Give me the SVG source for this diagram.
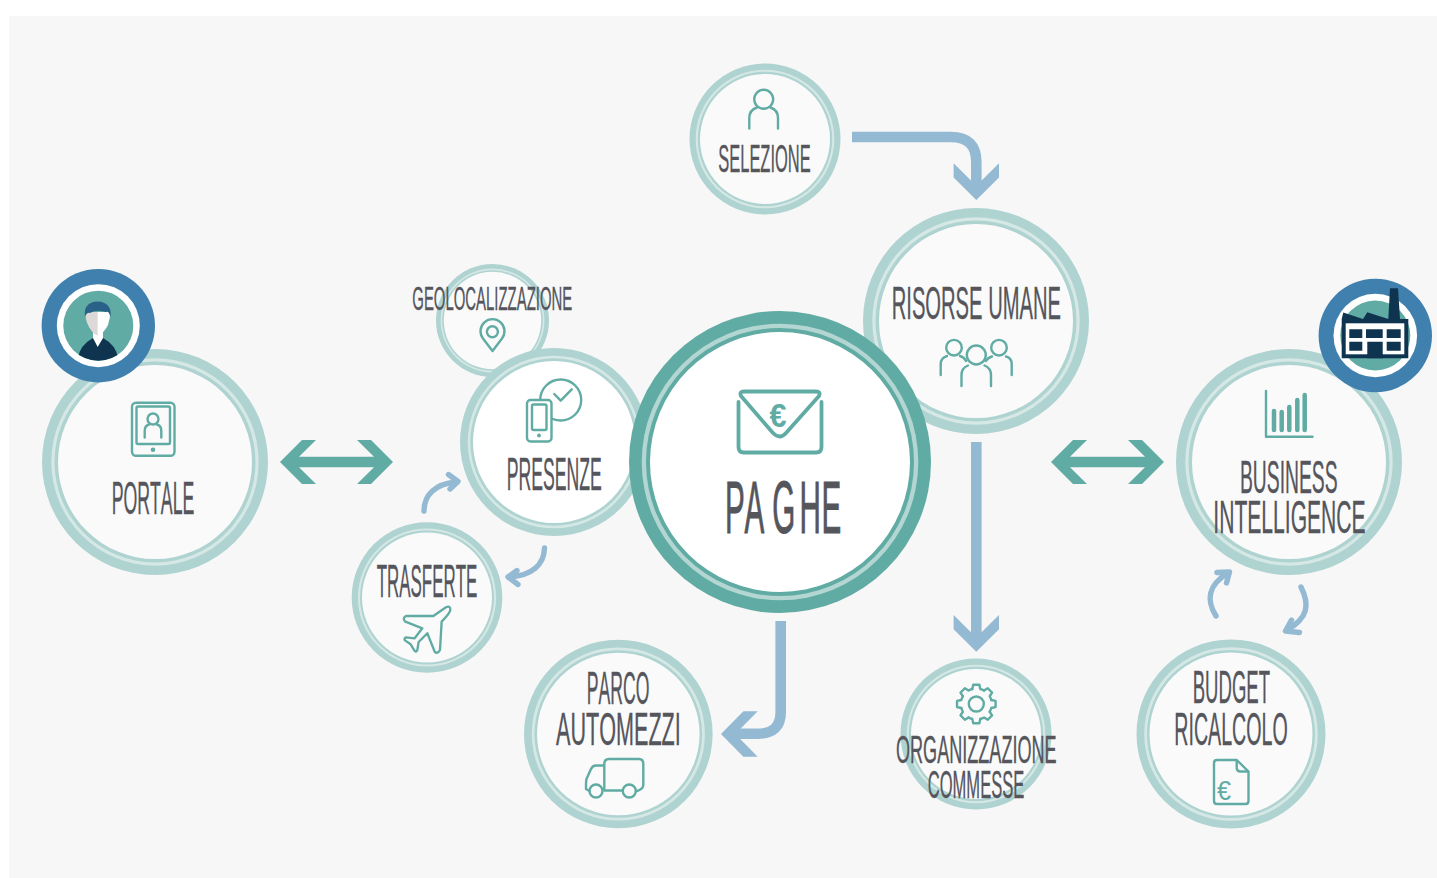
<svg xmlns="http://www.w3.org/2000/svg" xmlns:xlink="http://www.w3.org/1999/xlink" width="1437" height="878" viewBox="0 0 1437 878">
<style>
.a{fill:#aed3d0}.b{fill:#d5e8e6}.c{fill:#fafafa}.w{fill:#fff}
.t{font-family:"Liberation Sans Narrow","Liberation Sans",sans-serif;font-kerning:none;fill:#55555c;stroke:#55555c;stroke-width:.35}
.i{fill:none;stroke:#60aba3;stroke-width:2.4;stroke-linecap:round;stroke-linejoin:round}
.bl{fill:#94b9d3}.gr{fill:#60aba3}
.s{fill:none;stroke:#94b9d3;stroke-width:10.6}
.r{fill:none;stroke:#94b9d3;stroke-width:5.4;stroke-linecap:round;stroke-linejoin:round}
.e{font-family:"Liberation Sans",sans-serif;fill:#60aba3}
.d{fill:#0e3450}
</style>
<defs>
<polygon id="hd" points="-22.7,-36.7 -5.3,-19.4 5.3,-19.4 22.7,-36.7 22.7,-22.4 0,0 -22.7,-22.4"/>
<path id="tooth" d="M-4.01 -14.97L-3.05 -19.26H3.05L4.01 -14.97A15.5 15.5 0 0 1 7.75 -13.42"/>
<clipPath id="av"><circle cx="98.3" cy="325.7" r="35"/></clipPath>
</defs>
<rect width="1437" height="878" fill="#fff"/>
<rect x="9" y="16" width="1428" height="862" fill="#f7f7f7"/>

<g id="connectors">
<polygon class="gr" points="280,462 302,440 316,440 299,456.7 374,456.7 357,440 371,440 393,462 371,484 357,484 374,467.3 299,467.3 316,484 302,484"/>
<polygon class="gr" points="1051,462 1073,440 1087,440 1070,456.7 1145,456.7 1128,440 1142,440 1164,462 1142,484 1128,484 1145,467.3 1070,467.3 1087,484 1073,484"/>
<path class="s" d="M852 137H951Q976.3 137 976.3 162V182"/>
<use xlink:href="#hd" href="#hd" class="bl" transform="translate(976.3 200)"/>
<path class="s" d="M976.3 442V634"/>
<use xlink:href="#hd" href="#hd" class="bl" transform="translate(976.3 651.7)"/>
<path class="s" d="M780.7 621V712Q780.7 733.7 758 733.7H740"/>
<use xlink:href="#hd" href="#hd" class="bl" transform="translate(721 734) rotate(90)"/>
<path class="r" d="M424 511C424 495 435 484 456 482M448.5 474.5L458 481.5L450 489"/>
<path class="r" d="M544.5 548C544 565 532 575 510 577M517 570.5L508 577L518 584.5"/>
<path class="r" d="M1216 616C1206 600 1208 585 1228 573M1217 572.5L1229.5 572L1226.5 583"/>
<path class="r" d="M1301 587C1310 605 1308 618 1287 630M1291.5 620L1285.5 631L1299.5 632.5"/>
</g>

<g id="geolocalizzazione">
<circle class="a" cx="492.5" cy="320.5" r="56.5"/><circle class="b" cx="492.5" cy="320.5" r="51.9"/><circle class="a" cx="492.5" cy="320.5" r="50.3"/><circle class="c" cx="492.5" cy="320.5" r="48.7"/>
<path class="i" d="M492.5 351L483 338.5A12 12 0 1 1 502 338.5Z"/><circle class="i" cx="492.4" cy="331.7" r="5.5"/>
<text class="t" transform="translate(412.3 310) scale(.543 1)" font-size="33.5" textLength="294.6" lengthAdjust="spacingAndGlyphs">GEOLOCALIZZAZIONE</text>
</g>

<g id="presenze">
<circle class="a" cx="554" cy="442" r="94"/><circle class="b" cx="554" cy="442" r="86.3"/><circle class="a" cx="554" cy="442" r="83.7"/><circle class="w" cx="554" cy="442" r="81"/>
<circle class="i" cx="560.7" cy="400" r="20.5"/><path class="i" d="M554.3 394L560.7 400.7L571.7 389.3"/>
<rect class="i" style="fill:#fff" x="527" y="400" width="24.5" height="41.5" rx="3.5"/><rect class="i" x="532" y="404.5" width="14.5" height="25.5" rx="1.5"/><circle class="gr" cx="539" cy="435.5" r="1.9"/>
<text class="t" transform="translate(506.7 490) scale(.467 1)" font-size="46" textLength="203.3" lengthAdjust="spacingAndGlyphs">PRESENZE</text>
</g>

<g id="risorse-umane">
<circle class="a" cx="976" cy="321" r="113"/><circle class="b" cx="976" cy="321" r="103.7"/><circle class="a" cx="976" cy="321" r="100.5"/><circle class="c" cx="976" cy="321" r="97"/>
<circle class="i" cx="954" cy="347.7" r="7.8"/><circle class="i" cx="999" cy="347.7" r="7.8"/><circle class="i" cx="976.3" cy="355" r="9.5"/>
<path class="i" d="M940.7 375V364Q940.7 358 947 356M960 356Q964 357 966 361M1011.7 375V364Q1011.7 358 1006 356.5M992 356.5Q988 357.5 986 361M961.5 386V375Q961.5 368 968 365.5M991 386V375Q991 368 984.5 365.5"/>
<text class="t" transform="translate(891.7 319) scale(.535 1)" font-size="46" textLength="316.5" lengthAdjust="spacingAndGlyphs">RISORSE UMANE</text>
</g>

<g id="paghe">
<circle class="gr" cx="780" cy="462" r="151"/><circle fill="#b3d6d3" cx="780" cy="462" r="138.3"/><circle class="gr" cx="780" cy="462" r="134"/><circle class="w" cx="780" cy="462" r="130"/>
<path class="i" style="stroke-width:3.8" d="M738.5 402V447Q738.5 452.5 744 452.5H816Q821.5 452.5 821.5 447V402M741 396Q739 391.5 744 391.5H816Q821 391.5 819 396L786 433Q780 440 773 433Z"/>
<text class="e" x="769.5" y="427" font-size="33" font-weight="bold" textLength="17" lengthAdjust="spacingAndGlyphs">€</text>
<text class="t" style="stroke-width:1" transform="translate(725 533) scale(.4 1)" x="0 49 118 186 241" font-size="74">PAGHE</text>
</g>

<g id="portale">
<circle class="a" cx="155" cy="462" r="113"/><circle class="b" cx="155" cy="462" r="103.7"/><circle class="a" cx="155" cy="462" r="100.5"/><circle class="c" cx="155" cy="462" r="97"/>
<rect class="i" x="132" y="402.7" width="42.5" height="53" rx="4"/><rect class="i" x="136.5" y="406.5" width="33.5" height="37.5" rx="1.5"/><circle class="gr" cx="153" cy="449.7" r="2.3"/>
<circle class="i" cx="153" cy="419" r="5.5"/><path class="i" d="M144.7 437.5V431Q144.7 425.5 149 424.5M161.3 437.5V431Q161.3 425.5 157 424.5"/>
<text class="t" transform="translate(111.7 514) scale(.469 1)" font-size="46" textLength="176.1" lengthAdjust="spacingAndGlyphs">PORTALE</text>
</g>

<g id="badge-persona">
<circle fill="#3f80ae" cx="98.3" cy="325.7" r="56.7"/><circle class="w" cx="98.3" cy="325.7" r="41.5"/><circle class="gr" cx="98.3" cy="325.7" r="35"/>
<g clip-path="url(#av)">
<path class="d" d="M78 358Q80 345 93 338H103Q116 345 118 358V362H78Z"/>
<path class="w" d="M93 332H103V338L97.7 347L93 338Z"/>
<path class="w" d="M85.7 312H110Q110.5 318 108 325Q104 333 97.7 335.5Z"/>
<path fill="#ded9d9" d="M85.5 312Q85 320 89 327Q93 334 97.7 335.5V312Z"/>
<path fill="#2a6188" d="M85 317Q83 302 97.5 301.5Q112 302 110.7 317Q108 310 106 312Q96 309 90 313Q87 312 85 317Z"/>
</g>
</g>

<g id="trasferte">
<circle class="a" cx="427" cy="597.5" r="75.3"/><circle class="b" cx="427" cy="597.5" r="69.1"/><circle class="a" cx="427" cy="597.5" r="67"/><circle class="c" cx="427" cy="597.5" r="65"/>
<g transform="translate(340 250) scale(.3333)"><path class="i" style="stroke-width:7" d="M318 1072Q332 1066 331 1080Q330 1090 305 1115L300 1200Q292 1214 284 1205L262 1150L236 1176L232 1200Q228 1210 222 1200L212 1183L196 1172Q190 1165 198 1162L224 1165L247 1135L196 1115Q186 1105 198 1098L280 1098Z"/></g>
<text class="t" transform="translate(376.7 597) scale(.449 1)" font-size="46" textLength="224.2" lengthAdjust="spacingAndGlyphs">TRASFERTE</text>
</g>

<g id="selezione">
<circle class="a" cx="765" cy="139" r="75.5"/><circle class="b" cx="765" cy="139" r="69.3"/><circle class="a" cx="765" cy="139" r="67.2"/><circle class="c" cx="765" cy="139" r="65"/>
<circle class="i" cx="763.7" cy="99.3" r="9.5"/><path class="i" d="M749.3 128.5V118Q749.3 110 757 107.5M778 128.5V118Q778 110 770.5 107.5"/>
<text class="t" transform="translate(718.3 172) scale(.528 1)" font-size="38" textLength="174.9" lengthAdjust="spacingAndGlyphs">SELEZIONE</text>
</g>

<g id="business-intelligence">
<circle class="a" cx="1289" cy="462" r="113"/><circle class="b" cx="1289" cy="462" r="103.7"/><circle class="a" cx="1289" cy="462" r="100.5"/><circle class="c" cx="1289" cy="462" r="97"/>
<path class="i" d="M1266 391V436.7H1312.5"/>
<path class="i" style="stroke-width:4.5" d="M1274 411V430M1281.7 412V430M1289.3 407V430M1297.3 400V430M1304.7 395V430"/>
<text class="t" transform="translate(1240 493) scale(.522 1)" font-size="46" textLength="187" lengthAdjust="spacingAndGlyphs">BUSINESS</text>
<text class="t" transform="translate(1213.3 533) scale(.559 1)" font-size="46" textLength="272.5" lengthAdjust="spacingAndGlyphs">INTELLIGENCE</text>
</g>

<g id="badge-azienda">
<circle fill="#3f80ae" cx="1375.3" cy="335.5" r="56.7"/><circle class="w" cx="1375.3" cy="335.5" r="41.8"/><circle class="gr" cx="1375.3" cy="335.5" r="35"/>
<polygon class="d" points="1341.7,319 1343.3,312.5 1363,319 1367.3,312.3 1388.3,319 1390,288.3 1398,288.3 1400,319 1408.3,319 1408.3,358.3 1341.7,358.3"/>
<rect class="w" x="1345.7" y="323.3" width="58.6" height="31"/>
<path class="d" d="M1349.3 329.3h13v8.7h-13zM1366 329.3h16.7v8.7H1366zM1386.7 329.3h14v8.7h-14zM1349.3 341.7h13v9h-13zM1367.3 341.7h15.4v16.6h-15.4zM1386.7 341.7h14v9h-14z"/>
</g>

<g id="budget-ricalcolo">
<circle class="a" cx="1231" cy="734" r="94.5"/><circle class="b" cx="1231" cy="734" r="86.8"/><circle class="a" cx="1231" cy="734" r="84"/><circle class="c" cx="1231" cy="734" r="81.5"/>
<path class="i" d="M1236.7 760H1217Q1214 760 1214 763V801Q1214 804 1217 804H1245.5Q1248.5 804 1248.5 801V771.5ZM1236.7 760V768Q1236.7 771 1240 771.5H1248.5"/>
<text class="e" x="1217" y="800" font-size="27" textLength="14" lengthAdjust="spacingAndGlyphs">€</text>
<text class="t" transform="translate(1192.7 703) scale(.492 1)" font-size="46" textLength="157.2" lengthAdjust="spacingAndGlyphs">BUDGET</text>
<text class="t" transform="translate(1174.3 745) scale(.52 1)" font-size="46" textLength="218" lengthAdjust="spacingAndGlyphs">RICALCOLO</text>
</g>

<g id="parco-automezzi">
<circle class="a" cx="618.3" cy="734" r="94.3"/><circle class="b" cx="618.3" cy="734" r="86.6"/><circle class="a" cx="618.3" cy="734" r="83.8"/><circle class="c" cx="618.3" cy="734" r="81.3"/>
<path class="i" d="M604.3 790.5V764Q604.3 759 609 759H639Q643.3 759 643.3 764V785Q643.3 789 637 791M604.3 790.5H622.5M604.3 765.5H596Q592.5 765.5 591 769L586.5 779Q586 781 586 784V789L589.5 791"/>
<circle class="i" cx="596" cy="791" r="6.5"/><circle class="i" cx="629.3" cy="791" r="6.5"/>
<text class="t" transform="translate(586.7 704) scale(.467 1)" font-size="46" textLength="134.1" lengthAdjust="spacingAndGlyphs">PARCO</text>
<text class="t" transform="translate(556 745) scale(.593 1)" font-size="46" textLength="210.4" lengthAdjust="spacingAndGlyphs">AUTOMEZZI</text>
</g>

<g id="organizzazione-commesse">
<circle class="a" cx="976" cy="734" r="75.5"/><circle class="b" cx="976" cy="734" r="69.3"/><circle class="a" cx="976" cy="734" r="67.2"/><circle class="c" cx="976" cy="734" r="65"/>
<g transform="translate(976.3 704)">
<use xlink:href="#tooth" href="#tooth" class="i"/><use xlink:href="#tooth" href="#tooth" class="i" transform="rotate(45)"/><use xlink:href="#tooth" href="#tooth" class="i" transform="rotate(90)"/><use xlink:href="#tooth" href="#tooth" class="i" transform="rotate(135)"/><use xlink:href="#tooth" href="#tooth" class="i" transform="rotate(180)"/><use xlink:href="#tooth" href="#tooth" class="i" transform="rotate(225)"/><use xlink:href="#tooth" href="#tooth" class="i" transform="rotate(270)"/><use xlink:href="#tooth" href="#tooth" class="i" transform="rotate(315)"/>
<circle class="i" r="7.5"/>
</g>
<text class="t" transform="translate(896 763) scale(.565 1)" font-size="39" textLength="284.3" lengthAdjust="spacingAndGlyphs">ORGANIZZAZIONE</text>
<text class="t" transform="translate(927.7 798) scale(.518 1)" font-size="39" textLength="186.6" lengthAdjust="spacingAndGlyphs">COMMESSE</text>
</g>
</svg>
